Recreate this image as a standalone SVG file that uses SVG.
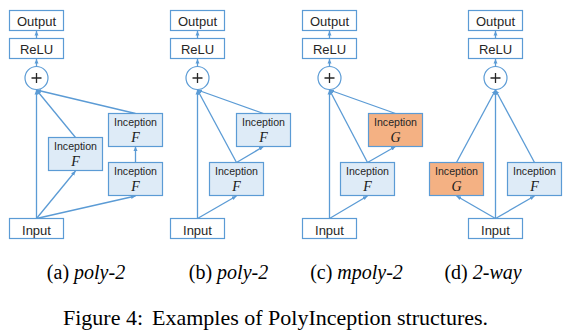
<svg xmlns="http://www.w3.org/2000/svg" width="568" height="334" viewBox="0 0 568 334">
<style>
.bx{fill:#fff;stroke:#5B9BD5;stroke-width:1.2}
.fb{fill:#DEEBF7;stroke:#5B9BD5;stroke-width:1.2}
.gb{fill:#F4B183;stroke:#5B9BD5;stroke-width:1.2}
.t{font-family:"Liberation Sans",Arial,sans-serif;font-size:13px;fill:#262626;text-anchor:middle}
.ti{font-family:"Liberation Sans",Arial,sans-serif;font-size:10.6px;fill:#262626;text-anchor:middle}
.m{font-family:"Liberation Serif","Times New Roman",serif;font-style:italic;font-size:14px;fill:#1a1a1a;text-anchor:middle}
.c{fill:none;stroke:#5B9BD5;stroke-width:1.3;marker-end:url(#ah)}
.pl{fill:none;stroke:#262626;stroke-width:1.3}
.cap{font-family:"Liberation Serif","Times New Roman",serif;font-size:20px;fill:#000;text-anchor:middle}
.fig{font-family:"Liberation Serif","Times New Roman",serif;font-size:22px;fill:#000}
</style>
<defs>
<marker id="ah" markerUnits="userSpaceOnUse" markerWidth="5" markerHeight="5" refX="4.5" refY="2.5" orient="auto">
<path d="M0,0.5 L4.5,2.5 L0,4.5 z" fill="#5B9BD5"/>
</marker>
<g id="plus"><circle r="11.5" fill="#fff" stroke="#5B9BD5" stroke-width="1.2"/><path class="pl" d="M-5,0 H5 M0,-5 V5"/></g>
</defs>

<g id="connectors">
<!-- a -->
<path class="c" d="M36.5,38.5 V31"/>
<path class="c" d="M36.5,66.5 V59"/>
<path class="c" d="M36.5,218.5 V90"/>
<path class="c" d="M36.5,218.5 L75.5,171"/>
<path class="c" d="M36.5,218.5 L135.5,196"/>
<path class="c" d="M75.5,137.5 L36.5,90"/>
<path class="c" d="M135.5,162.5 V146.5"/>
<path class="c" d="M135.5,113.5 L36.5,90"/>
<!-- b -->
<path class="c" d="M197.5,38.5 V31"/>
<path class="c" d="M197.5,66.5 V59"/>
<path class="c" d="M197.5,218.5 V90"/>
<path class="c" d="M197.5,218.5 L236.5,196"/>
<path class="c" d="M236.5,162.5 L197.5,90"/>
<path class="c" d="M236.5,162.5 L263.5,146.5"/>
<path class="c" d="M263.5,113.5 L197.5,90"/>
<!-- c -->
<path class="c" d="M329.5,38.5 V31"/>
<path class="c" d="M329.5,66.5 V59"/>
<path class="c" d="M329.5,218.5 V90"/>
<path class="c" d="M329.5,218.5 L367.5,196"/>
<path class="c" d="M367.5,162.5 L329.5,90"/>
<path class="c" d="M367.5,162.5 L395.5,146.5"/>
<path class="c" d="M395.5,113.5 L329.5,90"/>
<!-- d -->
<path class="c" d="M495.5,38.5 V31"/>
<path class="c" d="M495.5,66.5 V59"/>
<path class="c" d="M495.5,218.5 V90"/>
<path class="c" d="M495.5,218.5 L456.5,196"/>
<path class="c" d="M495.5,218.5 L534.5,196"/>
<path class="c" d="M456.5,162.5 L495.5,90"/>
<path class="c" d="M534.5,162.5 L495.5,90"/>
</g>

<!-- panel a -->
<g id="a-output"><rect class="bx" x="9.5" y="10.5" width="54" height="20"/><text class="t" x="36.5" y="26">Output</text></g>
<g id="a-relu"><rect class="bx" x="9.5" y="38.5" width="54" height="20"/><text class="t" x="36.5" y="54.3">ReLU</text></g>
<g id="a-add"><use href="#plus" x="36.5" y="78"/></g>
<g id="a-f1"><rect class="fb" x="48.5" y="137.5" width="54" height="33"/><text class="ti" x="75.5" y="149.5">Inception</text><text class="m" x="75.5" y="165.5">F</text></g>
<g id="a-f2"><rect class="fb" x="108.5" y="113.5" width="54" height="33"/><text class="ti" x="135.5" y="125.5">Inception</text><text class="m" x="135.5" y="141.5">F</text></g>
<g id="a-f3"><rect class="fb" x="108.5" y="162.5" width="54" height="33"/><text class="ti" x="135.5" y="174.5">Inception</text><text class="m" x="135.5" y="190.5">F</text></g>
<g id="a-input"><rect class="bx" x="9.5" y="218.5" width="54" height="20"/><text class="t" x="36.5" y="234.5">Input</text></g>

<!-- panel b -->
<g id="b-output"><rect class="bx" x="170.5" y="10.5" width="54" height="20"/><text class="t" x="197.5" y="26">Output</text></g>
<g id="b-relu"><rect class="bx" x="170.5" y="38.5" width="54" height="20"/><text class="t" x="197.5" y="54.3">ReLU</text></g>
<g id="b-add"><use href="#plus" x="197.5" y="78"/></g>
<g id="b-f1"><rect class="fb" x="209.5" y="162.5" width="54" height="33"/><text class="ti" x="236.5" y="174.5">Inception</text><text class="m" x="236.5" y="190.5">F</text></g>
<g id="b-f2"><rect class="fb" x="236.5" y="113.5" width="54" height="33"/><text class="ti" x="263.5" y="125.5">Inception</text><text class="m" x="263.5" y="141.5">F</text></g>
<g id="b-input"><rect class="bx" x="170.5" y="218.5" width="54" height="20"/><text class="t" x="197.5" y="234.5">Input</text></g>

<!-- panel c -->
<g id="c-output"><rect class="bx" x="302.5" y="10.5" width="54" height="20"/><text class="t" x="329.5" y="26">Output</text></g>
<g id="c-relu"><rect class="bx" x="302.5" y="38.5" width="54" height="20"/><text class="t" x="329.5" y="54.3">ReLU</text></g>
<g id="c-add"><use href="#plus" x="329.5" y="78"/></g>
<g id="c-f"><rect class="fb" x="340.5" y="162.5" width="54" height="33"/><text class="ti" x="367.5" y="174.5">Inception</text><text class="m" x="367.5" y="190.5">F</text></g>
<g id="c-g"><rect class="gb" x="368.5" y="113.5" width="54" height="33"/><text class="ti" x="395.5" y="125.5">Inception</text><text class="m" x="395.5" y="141.5">G</text></g>
<g id="c-input"><rect class="bx" x="302.5" y="218.5" width="54" height="20"/><text class="t" x="329.5" y="234.5">Input</text></g>

<!-- panel d -->
<g id="d-output"><rect class="bx" x="468.5" y="10.5" width="54" height="20"/><text class="t" x="495.5" y="26">Output</text></g>
<g id="d-relu"><rect class="bx" x="468.5" y="38.5" width="54" height="20"/><text class="t" x="495.5" y="54.3">ReLU</text></g>
<g id="d-add"><use href="#plus" x="495.5" y="78"/></g>
<g id="d-g"><rect class="gb" x="429.5" y="162.5" width="54" height="33"/><text class="ti" x="456.5" y="174.5">Inception</text><text class="m" x="456.5" y="190.5">G</text></g>
<g id="d-f"><rect class="fb" x="507.5" y="162.5" width="54" height="33"/><text class="ti" x="534.5" y="174.5">Inception</text><text class="m" x="534.5" y="190.5">F</text></g>
<g id="d-input"><rect class="bx" x="468.5" y="218.5" width="54" height="20"/><text class="t" x="495.5" y="234.5">Input</text></g>

<g id="captions">
<text class="cap" x="86" y="279">(a) <tspan font-style="italic">poly-2</tspan></text>
<text class="cap" x="228.5" y="279">(b) <tspan font-style="italic">poly-2</tspan></text>
<text class="cap" x="356.5" y="279">(c) <tspan font-style="italic">mpoly-2</tspan></text>
<text class="cap" x="483" y="279">(d) <tspan font-style="italic">2-way</tspan></text>
<text class="fig" x="63" y="325">Figure 4:<tspan x="152">Examples of PolyInception structures.</tspan></text>
</g>
</svg>
